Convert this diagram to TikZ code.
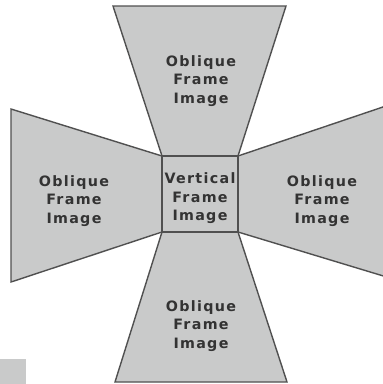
\documentclass[tikz,border=0pt]{standalone}
\usepackage{fontspec}
\setmainfont{DejaVu Sans}[LetterSpace=9]
\definecolor{panelfill}{HTML}{C9CACA}
\definecolor{panelline}{HTML}{505050}
\definecolor{paneltext}{HTML}{333333}
\tikzset{
  panel/.style={fill=panelfill, draw=panelline, line width=1.4pt, line join=miter},
  label/.style={text=paneltext, align=center, font=\fontsize{14.3}{18.5}\selectfont\bfseries, inner sep=0pt}
}
\begin{document}
\begin{tikzpicture}[x=1pt,y=-1pt]
\useasboundingbox (0,0) rectangle (383,384);
\fill[panelfill] (0,359) rectangle (26,384);
% top
\path[panel] (113,6) -- (286,6) -- (238,156) -- (162,156) -- cycle;
% left
\path[panel] (11,109) -- (162,156) -- (162,232) -- (11,282) -- cycle;
% right
\fill[panelfill] (238,156) -- (390,104.6) -- (390,278) -- (238,232) -- cycle;
\draw[panelline, line width=1.4pt] (390,104.6) -- (238,156) -- (238,232) -- (390,278);
% bottom
\path[panel] (162,232) -- (238,232) -- (287,382) -- (115,382) -- cycle;
% centre
\path[panel] (162,156) rectangle (238,232);
\node[label] (ttop) at (201,81) {Oblique\\Frame\\Image};
\node[label] (tleft) at (74,201) {Oblique\\Frame\\Image};
\node[label] (tright) at (322,201) {Oblique\\Frame\\Image};
\node[label] (tbottom) at (201,326) {Oblique\\Frame\\Image};
\node[label] (tcentre) at (200,198.5) {Vertical\\Frame\\Image};
\end{tikzpicture}
\end{document}
